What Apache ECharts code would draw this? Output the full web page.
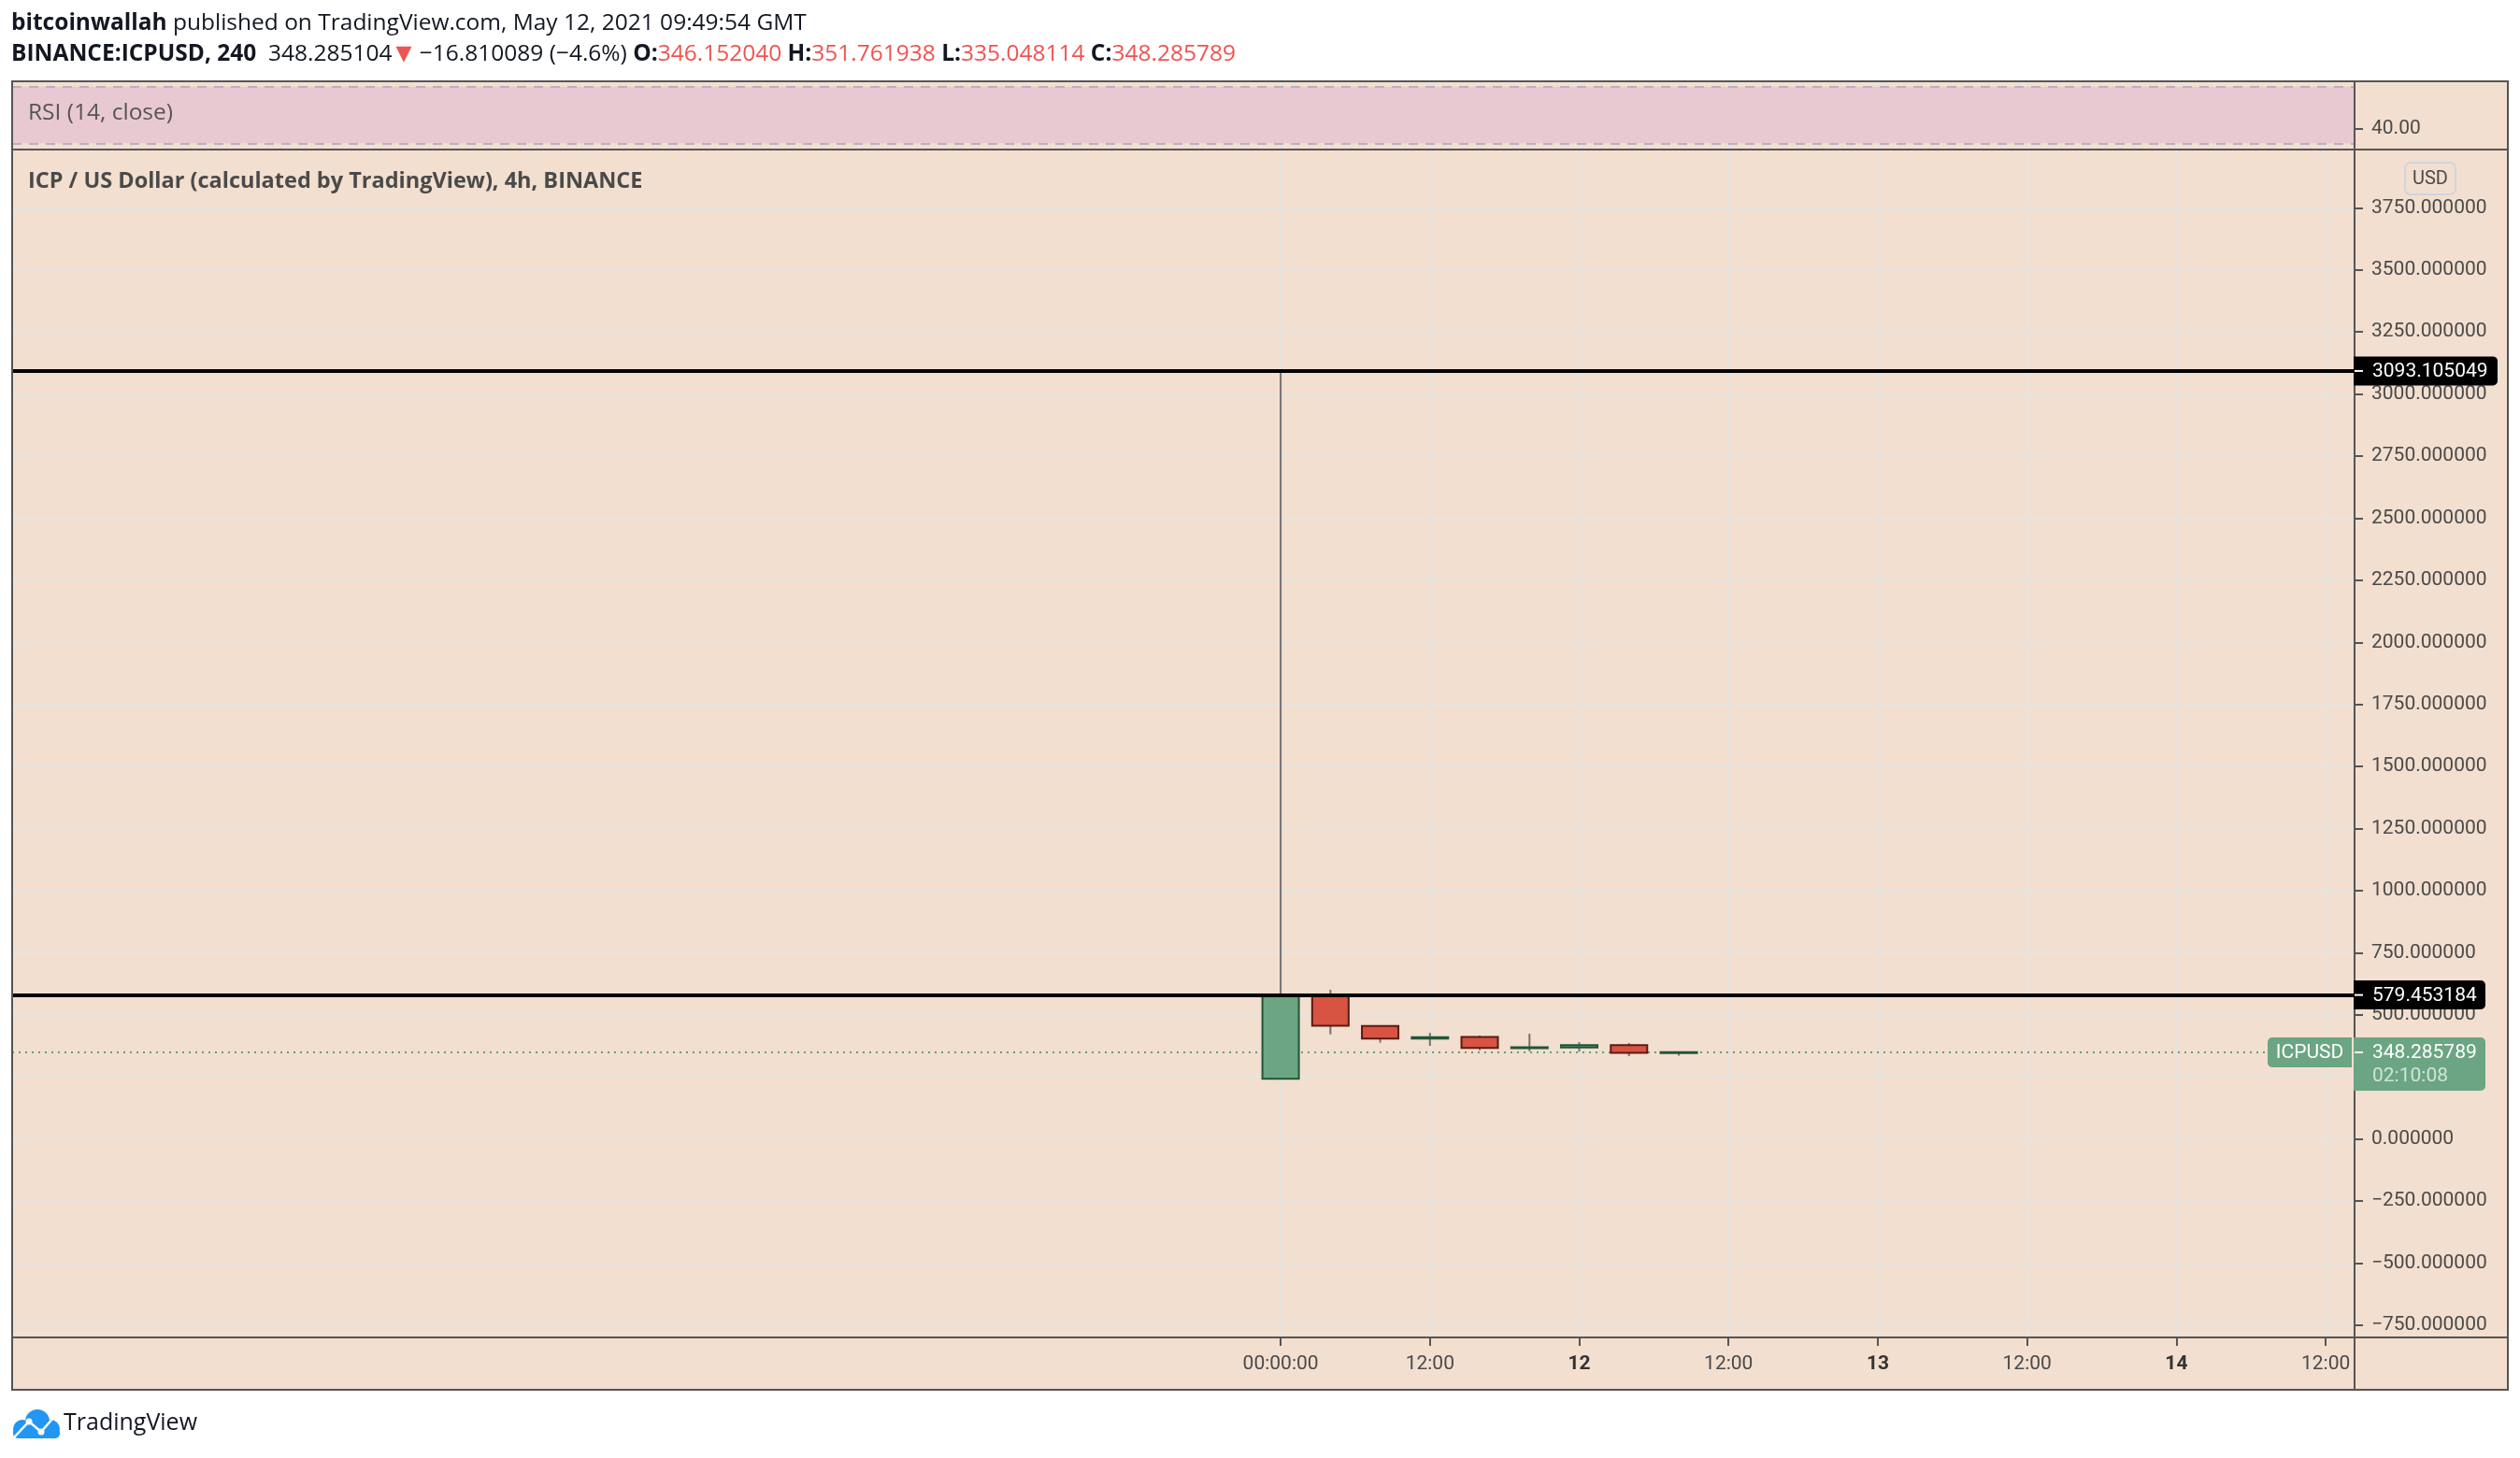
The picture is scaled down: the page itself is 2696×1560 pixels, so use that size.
<!DOCTYPE html>
<html>
<head>
<meta charset="utf-8">
<script src="https://cdn.jsdelivr.net/npm/echarts@6/dist/echarts.min.js"></script>
<style>
html,body{margin:0;padding:0;background:#ffffff;}
#c{width:2696px;height:1560px;}
</style>
</head>
<body>
<div id="c"></div>
<script>
// ---------- data ----------
const hours  = [0, 4, 8, 12, 16, 20, 24, 28, 32];           // candle open time, hours after 11 May 00:00
const opens  = [241.7, 579.453184, 455, 403.6, 410, 365, 368, 377, 346.152040];
const closes = [579.453184, 456, 403.6, 409, 366, 369, 377, 346.152040, 348.285789];
const lows   = [241.7, 421, 387, 374.6, 357, 353, 351, 333, 335.048114];
const highs  = [3093.105049, 600.5, 455, 427, 416, 423.6, 389.7, 386, 351.761938];

const priceTicks = [-750, -500, -250, 0, 250, 500, 750, 1000, 1250, 1500, 1750, 2000, 2250, 2500, 2750, 3000, 3250, 3500, 3750];
const timeTicks = [0, 12, 24, 36, 48, 60, 72, 84];
const timeTickLabels = ['00:00:00', '12:00', '12', '12:00', '13', '12:00', '14', '12:00'];
const timeTickIsDay = [false, false, true, false, true, false, true, false];
const levels = [3093.105049, 579.453184];
const rsiTicks = [40];
const rsiBand = [30, 70];
const countdown = '02:10:08';
const lastPrice = 348.285104;
const change = -16.810089;
const changePct = -4.6;

// ---------- geometry ----------
const W = 2696, H = 1560;
const FL = 13, FR = 2683, FT = 87, FB = 1487;   // outer frame
const AX = 2519;                                 // price axis separator
const PANE_SPLIT = 160, TIME_AX = 1431;

const AXIS_FONT = 'Roboto, "Liberation Sans", sans-serif';
const HEAD_FONT = '"Open Sans", "Noto Sans", sans-serif';

const candleData = hours.map((h, i) => [h, opens[i], closes[i], lows[i], highs[i]]);
const last = candleData.length - 1;

const chart = echarts.init(document.getElementById('c'), null, {renderer: 'canvas', width: W, height: H});

const fmtTime = (v) => {
  const i = timeTicks.indexOf(v);
  if (i < 0) return '';
  return timeTickIsDay[i] ? '{b|' + timeTickLabels[i] + '}' : '{n|' + timeTickLabels[i] + '}';
};

const option = {
  animation: false,
  backgroundColor: '#ffffff',
  grid: [
    {left: FL, right: W - AX, top: FT, height: PANE_SPLIT - FT, containLabel: false},
    {left: FL, right: W - AX, top: PANE_SPLIT, height: TIME_AX - PANE_SPLIT, containLabel: false}
  ],
  xAxis: [
    {
      type: 'value', gridIndex: 0, min: -101.96, max: 86.32, position: 'bottom',
      axisLine: {show: false, onZero: false}, axisTick: {show: false, customValues: timeTicks},
      axisLabel: {show: false, customValues: timeTicks},
      splitLine: {show: true, lineStyle: {color: 'rgba(225,225,235,0.75)', width: 2}}
    },
    {
      type: 'value', gridIndex: 1, min: -101.96, max: 86.32, position: 'bottom',
      axisLine: {show: false, onZero: false},
      axisTick: {show: true, customValues: timeTicks, length: 9, lineStyle: {color: '#555555', width: 2}},
      axisLabel: {
        show: true, customValues: timeTicks, margin: 18, formatter: fmtTime,
        fontFamily: AXIS_FONT, fontSize: 21,
        rich: {
          n: {fontFamily: AXIS_FONT, fontSize: 21, color: '#4a4a4a'},
          b: {fontFamily: AXIS_FONT, fontSize: 21, color: '#333333', fontWeight: 'bold'}
        }
      },
      splitLine: {show: true, lineStyle: {color: '#e6e4e1', width: 2}}
    }
  ],
  yAxis: [
    {
      type: 'value', gridIndex: 0, position: 'right', min: 25.58, max: 73.76,
      axisLine: {show: false, onZero: false},
      axisTick: {show: true, customValues: rsiTicks, length: 9, lineStyle: {color: '#555555', width: 2}},
      axisLabel: {show: true, customValues: rsiTicks, margin: 18, formatter: (v) => v.toFixed(2),
        fontFamily: AXIS_FONT, fontSize: 21, color: '#4a4a4a', padding: [4, 0, 0, 0]},
      splitLine: {show: true, lineStyle: {color: '#dcd2ea', width: 2}}
    },
    {
      type: 'value', gridIndex: 1, position: 'right', min: -800, max: 3985,
      axisLine: {show: false, onZero: false},
      axisTick: {show: true, customValues: priceTicks, length: 9, lineStyle: {color: '#555555', width: 2}},
      axisLabel: {show: true, customValues: priceTicks, margin: 18, formatter: (v) => v.toFixed(6).replace('-', '\u2212'),
        fontFamily: AXIS_FONT, fontSize: 21, color: '#4a4a4a', padding: [3, 0, 0, 0]},
      splitLine: {show: true, lineStyle: {color: '#e6e4e1', width: 2}}
    }
  ],
  series: [
    {
      type: 'line', xAxisIndex: 0, yAxisIndex: 0, data: [], silent: true,
      markArea: {silent: true, itemStyle: {color: '#e8c9d2'}, data: [[{yAxis: rsiBand[1]}, {yAxis: rsiBand[0]}]]},
      markLine: {silent: true, symbol: 'none', label: {show: false},
        lineStyle: {color: '#b9b0c6', width: 2, type: [10, 8]},
        data: rsiBand.map(v => ({yAxis: v}))}
    },
    {
      type: 'line', xAxisIndex: 1, yAxisIndex: 1, data: [], silent: true, z: 1,
      markLine: {silent: true, symbol: 'none', label: {show: false}, z: 1,
        lineStyle: {color: '#5f9e78', width: 2, type: [2, 5]},
        data: [{yAxis: closes[last]}]}
    },
    {
      type: 'custom', xAxisIndex: 1, yAxisIndex: 1, data: candleData, z: 3,
      encode: {x: 0, y: [1, 2, 3, 4]},
      renderItem: function (params, api) {
        const x = api.value(0), o = api.value(1), c = api.value(2), l = api.value(3), h = api.value(4);
        const pO = api.coord([x, o]), pC = api.coord([x, c]);
        const pL = api.coord([x, l]), pH = api.coord([x, h]);
        const w = api.size([2.93, 0])[0];
        const up = c >= o;
        let top = Math.min(pO[1], pC[1]);
        let hh = Math.abs(pO[1] - pC[1]);
        if (hh < 1) { top -= (1 - hh) / 2; hh = 1; }
        return {
          type: 'group',
          children: [
            {type: 'line', shape: {x1: pH[0], y1: pH[1], x2: pL[0], y2: pL[1]}, style: {stroke: '#737375', lineWidth: 2}},
            {type: 'rect', shape: {x: pO[0] - w / 2, y: top, width: w, height: hh},
              style: {fill: up ? '#6ba583' : '#d75442', stroke: up ? '#225437' : '#5b1a13', lineWidth: 2}}
          ]
        };
      },
      markLine: {silent: true, symbol: 'none', label: {show: false}, z: 5,
        lineStyle: {color: '#000000', width: 4, type: 'solid'},
        data: levels.map(v => ({yAxis: v}))}
    }
  ]
};

chart.setOption(option);

// ---------- overlay graphics (positions from the chart's own scales) ----------
const yPix = (v) => chart.convertToPixel({xAxisIndex: 1, yAxisIndex: 1}, [0, v])[1];
const g = [];

// background panel
g.push({type: 'rect', z: -100, shape: {x: FL, y: FT, width: FR - FL, height: FB - FT}, style: {fill: '#f2dfcf'}});

// frame & separators
const frameStyle = {stroke: '#555555', lineWidth: 2};
g.push({type: 'rect', z: 100, shape: {x: FL, y: FT, width: FR - FL, height: FB - FT}, style: Object.assign({fill: null}, frameStyle)});
g.push({type: 'line', z: 100, shape: {x1: FL, y1: PANE_SPLIT, x2: FR, y2: PANE_SPLIT}, style: frameStyle});
g.push({type: 'line', z: 100, shape: {x1: FL, y1: TIME_AX, x2: FR, y2: TIME_AX}, style: frameStyle});
g.push({type: 'line', z: 100, shape: {x1: AX, y1: FT, x2: AX, y2: FB}, style: frameStyle});

// header
const HS = 24.5;
g.push({type: 'text', z: 100, style: {
  x: 12, y: 25, verticalAlign: 'middle', fontFamily: HEAD_FONT, fontSize: HS, fill: '#131722',
  text: '{b|bitcoinwallah} published on TradingView.com, May 12, 2021 09:49:54 GMT',
  rich: {b: {fontFamily: HEAD_FONT, fontSize: HS, fontWeight: 'bold', fill: '#131722'}}
}});
const f6 = (v) => v.toFixed(6);
g.push({type: 'text', z: 100, style: {
  x: 12, y: 58, verticalAlign: 'middle', fontFamily: HEAD_FONT, fontSize: HS, fill: '#131722',
  text: '{b|BINANCE:ICPUSD, 240}  ' + f6(lastPrice) + '{t|\u25BC} \u2212' + f6(Math.abs(change)) +
    ' (\u2212' + Math.abs(changePct).toFixed(1) + '%) {b|O:}{r|' + f6(opens[last]) + '} {b|H:}{r|' + f6(highs[last]) +
    '} {b|L:}{r|' + f6(lows[last]) + '} {b|C:}{r|' + f6(closes[last]) + '}',
  rich: {
    b: {fontFamily: HEAD_FONT, fontSize: HS, fontWeight: 'bold', fill: '#131722'},
    r: {fontFamily: HEAD_FONT, fontSize: HS, fill: '#ef5350'},
    t: {fontFamily: '"DejaVu Sans", sans-serif', fontSize: 22, fill: '#ef5350', padding: [0, 2, 0, 4]}
  }
}});

// pane titles
g.push({type: 'text', z: 100, style: {x: 30, y: 121, verticalAlign: 'middle', text: 'RSI (14, close)',
  fontFamily: HEAD_FONT, fontSize: 24.5, fill: '#555555'}});
g.push({type: 'text', z: 100, style: {x: 30, y: 194, verticalAlign: 'middle', text: 'ICP / US Dollar (calculated by TradingView), 4h, BINANCE',
  fontFamily: HEAD_FONT, fontSize: 23.5, fontWeight: 'bold', fill: '#4a4a4a'}});

// USD badge
g.push({type: 'rect', z: 100, shape: {x: 2573, y: 174, width: 54, height: 34, r: 6}, style: {fill: null, stroke: '#cfd4df', lineWidth: 2}});
g.push({type: 'text', z: 101, style: {x: 2600, y: 192, align: 'center', verticalAlign: 'middle', text: 'USD',
  fontFamily: AXIS_FONT, fontSize: 20, fill: '#4a4a4a'}});

// level badges
levels.forEach((v) => {
  const y = yPix(v);
  const t = f6(v);
  const w = t.length >= 11 ? 154 : 141;
  g.push({type: 'rect', z: 110, shape: {x: AX - 1, y: y - 15.5, width: w, height: 31, r: [0, 5, 5, 0]}, style: {fill: '#000000'}});
  g.push({type: 'line', z: 111, shape: {x1: AX, y1: y, x2: AX + 9, y2: y}, style: {stroke: '#ffffff', lineWidth: 2}});
  g.push({type: 'text', z: 111, style: {x: AX + 19, y: y + 1, verticalAlign: 'middle', text: t,
    fontFamily: AXIS_FONT, fontSize: 21, fill: '#ffffff'}});
});

// last-price badges
(function () {
  const y = yPix(closes[last]);
  g.push({type: 'rect', z: 110, shape: {x: AX - 1, y: y - 16, width: 141, height: 57, r: [0, 5, 5, 0]}, style: {fill: '#6ba583'}});
  g.push({type: 'line', z: 111, shape: {x1: AX, y1: y, x2: AX + 9, y2: y}, style: {stroke: '#ffffff', lineWidth: 2}});
  g.push({type: 'text', z: 111, style: {x: AX + 19, y: y + 1, verticalAlign: 'middle', text: f6(closes[last]),
    fontFamily: AXIS_FONT, fontSize: 21, fill: '#ffffff'}});
  g.push({type: 'text', z: 111, style: {x: AX + 19, y: y + 26, verticalAlign: 'middle', text: countdown,
    fontFamily: AXIS_FONT, fontSize: 21, fill: '#cfe4d6'}});
  g.push({type: 'rect', z: 110, shape: {x: 2426, y: y - 16, width: 90, height: 32, r: [5, 0, 0, 5]}, style: {fill: '#6ba583'}});
  g.push({type: 'text', z: 111, style: {x: 2471, y: y + 1, align: 'center', verticalAlign: 'middle', text: 'ICPUSD',
    fontFamily: AXIS_FONT, fontSize: 21, fill: '#ffffff'}});
})();

// TradingView logo
g.push({type: 'group', z: 100, children: [
  {type: 'circle', shape: {cx: 40, cy: 1521, r: 13}, style: {fill: '#2196f3'}},
  {type: 'circle', shape: {cx: 24, cy: 1529, r: 10}, style: {fill: '#2196f3'}},
  {type: 'circle', shape: {cx: 54, cy: 1529, r: 10}, style: {fill: '#2196f3'}},
  {type: 'rect', shape: {x: 14, y: 1528, width: 50, height: 11, r: 5}, style: {fill: '#2196f3'}},
  {type: 'polyline', shape: {points: [[15, 1538], [31, 1521], [44, 1532], [57, 1517]]}, style: {stroke: '#ffffff', lineWidth: 2.5, fill: null}},
  {type: 'circle', shape: {cx: 31, cy: 1521, r: 3.5}, style: {fill: '#ffffff'}},
  {type: 'circle', shape: {cx: 44, cy: 1532, r: 3.5}, style: {fill: '#ffffff'}}
]});
g.push({type: 'text', z: 100, style: {x: 68, y: 1523, verticalAlign: 'middle', text: 'TradingView',
  fontFamily: HEAD_FONT, fontSize: 25, fill: '#131722'}});

chart.setOption({graphic: g});
</script>
</body>
</html>
